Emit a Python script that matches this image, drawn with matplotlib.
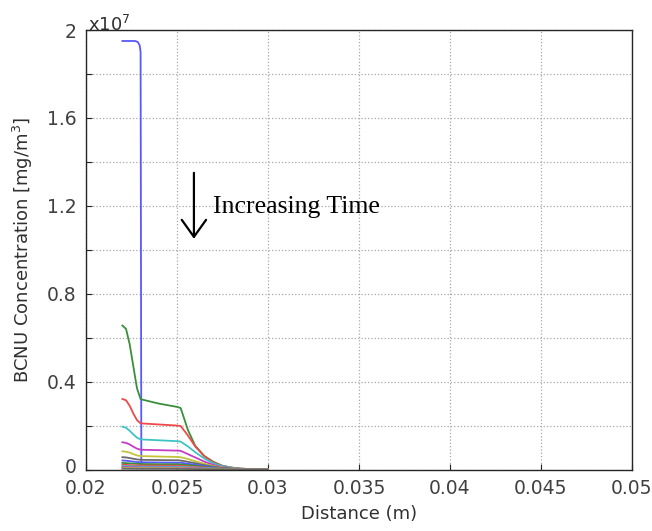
import matplotlib
matplotlib.use('Agg')
import matplotlib.pyplot as plt
from matplotlib.transforms import ScaledTranslation

# distance (m) sampled along the profile
distance = [0.0220, 0.0222, 0.0224, 0.0226, 0.0228, 0.0230, 0.0240, 0.0250, 0.0252,
            0.0256, 0.0260, 0.0265, 0.0270, 0.0275, 0.0280, 0.0285, 0.0290, 0.0300]

# first time step (sharp front)
distance_t0 = [0.0220, 0.0227, 0.02285, 0.02295, 0.02300, 0.02302, 0.02304, 0.0231, 0.0300]
conc_t0 = [1.95, 1.95, 1.945, 1.93, 1.90, 1.0, 0.02, 0.012, 0.0]

# later time steps, concentration in units of 1e7 mg/m^3
conc_t1 = [0.655, 0.64, 0.57, 0.47, 0.37, 0.32, 0.30, 0.285, 0.28, 0.18, 0.108, 0.062, 0.035, 0.017, 0.009, 0.004, 0.002, 0.0]
conc_t2 = [0.321, 0.315, 0.29, 0.255, 0.225, 0.21, 0.205, 0.20, 0.198, 0.155, 0.105, 0.06, 0.032, 0.016, 0.008, 0.004, 0.002, 0.0]
conc_t3 = [0.195, 0.19, 0.176, 0.16, 0.145, 0.137, 0.133, 0.129, 0.127, 0.105, 0.079, 0.05, 0.028, 0.015, 0.008, 0.004, 0.002, 0.0]
conc_t4 = [0.124, 0.121, 0.114, 0.104, 0.095, 0.09, 0.088, 0.086, 0.085, 0.07, 0.055, 0.036, 0.021, 0.011, 0.006, 0.003, 0.0015, 0.0]
conc_t5 = [0.083, 0.081, 0.077, 0.07, 0.064, 0.061, 0.059, 0.057, 0.056, 0.048, 0.038, 0.026, 0.016, 0.009, 0.005, 0.0025, 0.001, 0.0]
conc_t6 = [0.056, 0.055, 0.052, 0.049, 0.046, 0.044, 0.043, 0.042, 0.041, 0.035, 0.029, 0.02, 0.013, 0.007, 0.004, 0.002, 0.001, 0.0]
conc_t7 = [0.041, 0.04, 0.038, 0.036, 0.034, 0.033, 0.032, 0.031, 0.031, 0.026, 0.022, 0.016, 0.01, 0.006, 0.003, 0.0015, 0.0008, 0.0]
conc_t8 = [0.030, 0.029, 0.028, 0.027, 0.026, 0.025, 0.024, 0.024, 0.023, 0.02, 0.017, 0.012, 0.008, 0.005, 0.003, 0.0015, 0.0007, 0.0]
conc_t9 = [0.022, 0.021, 0.020, 0.019, 0.0185, 0.018, 0.018, 0.017, 0.017, 0.014, 0.012, 0.009, 0.006, 0.004, 0.002, 0.001, 0.0005, 0.0]
conc_t10 = [0.016, 0.0155, 0.015, 0.0142, 0.0135, 0.013, 0.013, 0.0125, 0.0123, 0.0105, 0.009, 0.007, 0.005, 0.003, 0.002, 0.001, 0.0005, 0.0]
conc_t11 = [0.011, 0.0107, 0.0103, 0.0098, 0.0093, 0.009, 0.009, 0.0087, 0.0086, 0.0074, 0.0063, 0.0048, 0.0034, 0.0021, 0.0013, 0.0007, 0.0003, 0.0]
conc_t12 = [0.007, 0.0068, 0.0065, 0.0063, 0.0061, 0.006, 0.0058, 0.0056, 0.0055, 0.0047, 0.004, 0.003, 0.0022, 0.0014, 0.0008, 0.0004, 0.0002, 0.0]
conc_t13 = [0.004, 0.0039, 0.0037, 0.0036, 0.0034, 0.0033, 0.0032, 0.0031, 0.003, 0.0026, 0.0022, 0.0017, 0.0012, 0.0008, 0.0005, 0.0002, 0.0001, 0.0]

later = [conc_t1, conc_t2, conc_t3, conc_t4, conc_t5, conc_t6, conc_t7,
         conc_t8, conc_t9, conc_t10, conc_t11, conc_t12, conc_t13]

# old matlab colour order, a bit washed out like the screenshot
couleurs = ['#5858ff', '#3a8f3a', '#f04848', '#3cc4c4', '#c43cc4', '#c4c43c', '#6a6a6a']

x_ticks = [0.02, 0.025, 0.03, 0.035, 0.04, 0.045, 0.05]
x_ticklabels = ['0.02', '0.025', '0.03', '0.035', '0.04', '0.045', '0.05']
y_ticks = [0, 0.2, 0.4, 0.6, 0.8, 1.0, 1.2, 1.4, 1.6, 1.8, 2.0]
y_ticklabels = ['0', '', '0.4', '', '0.8', '', '1.2', '', '1.6', '', '2']

fig = plt.figure(figsize=(6.52, 5.31), dpi=100)
ax = fig.add_axes([0.1319, 0.1158, 0.8374, 0.8277])

ax.plot(distance_t0, conc_t0, color=couleurs[0], lw=1.3)
for i, c in enumerate(later):
    ax.plot(distance, c, color=couleurs[(i + 1) % len(couleurs)], lw=1.3)

ax.set_xlim(0.02, 0.05)
ax.set_ylim(0, 2.0)
ax.set_xticks(x_ticks)
ax.set_xticklabels(x_ticklabels)
ax.set_yticks(y_ticks)
ax.set_yticklabels(y_ticklabels)

ax.grid(True, linestyle=':', color='#a8a8a8', lw=0.9)
ax.set_axisbelow(True)
ax.tick_params(direction='in', length=4, width=0.8, colors='#262626',
               labelcolor='#404040', labelsize=13.5, top=False, right=False)
ax.tick_params(axis='x', pad=7)
ax.tick_params(axis='y', pad=7)
for s in ax.spines.values():
    s.set_color('#262626')
    s.set_linewidth(1.0)

# le "0" de l'axe y un peu plus haut, comme sur l'original
lab0 = ax.get_yticklabels()[0]
lab0.set_transform(lab0.get_transform() + ScaledTranslation(0, 3 / 72, fig.dpi_scale_trans))

ax.set_xlabel('Distance (m)', fontsize=13, color='#303030', labelpad=5)
ax.set_ylabel('BCNU Concentration [mg/m$^3$]', fontsize=13, color='#303030', labelpad=8)

fig.text(88 / 652, 1 - 31 / 531, 'x10$^7$', fontsize=13, color='#303030', va='baseline')

# fleche "Increasing Time"
ax.annotate('', xy=(0.02593, 1.05), xytext=(0.02593, 1.35),
            arrowprops=dict(arrowstyle='->,head_length=0.35,head_width=0.25',
                            lw=1.6, color='black', mutation_scale=35, shrinkA=0, shrinkB=0))
ax.text(0.02696, 1.167, 'Increasing Time', family='Liberation Serif', fontsize=18.5,
        va='baseline', ha='left', color='black')

fig.savefig('out.png', dpi=100)
